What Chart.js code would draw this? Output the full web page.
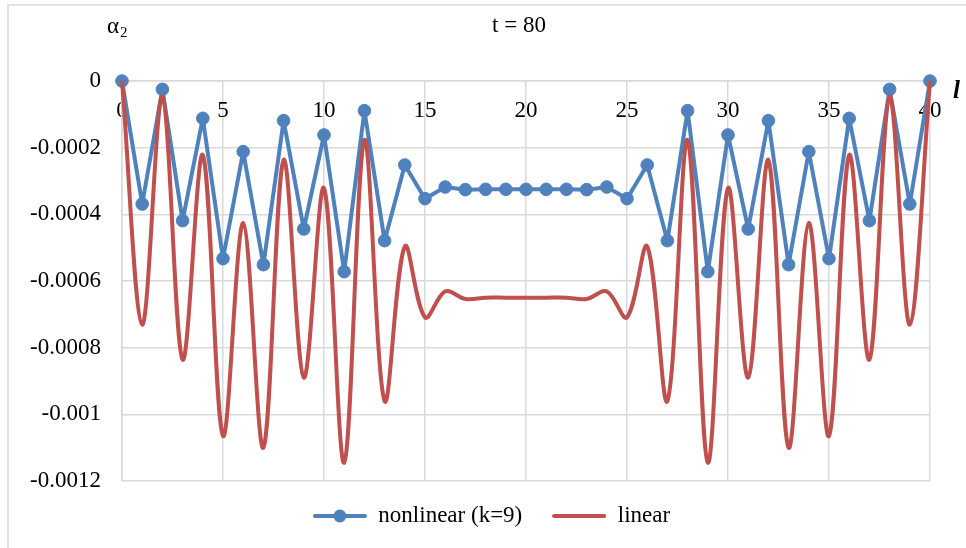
<!DOCTYPE html>
<html>
<head>
<meta charset="utf-8">
<script src="https://cdn.jsdelivr.net/npm/chart.js@4.4.1/dist/chart.umd.min.js"></script>
<style>
  body { margin: 0; background: #fff; }
  #wrap { width: 966px; height: 548px; position: relative; }
</style>
</head>
<body>
<div id="wrap"><canvas id="myChart"></canvas></div>
<script>
// data
const xValues = [0, 1, 2, 3, 4, 5, 6, 7, 8, 9, 10, 11, 12, 13, 14, 15, 16, 17, 18, 19, 20,
                 21, 22, 23, 24, 25, 26, 27, 28, 29, 30, 31, 32, 33, 34, 35, 36, 37, 38, 39, 40];
const nonlinearValues = [0, -0.000369, -0.000025, -0.000419, -0.000112, -0.000533, -0.000212, -0.000551,
  -0.000119, -0.000444, -0.000162, -0.000572, -0.000089, -0.000479, -0.000252, -0.000353, -0.000318,
  -0.000326, -0.000325, -0.000325, -0.000325, -0.000325, -0.000325, -0.000326, -0.000318, -0.000353,
  -0.000252, -0.000479, -0.000089, -0.000572, -0.000162, -0.000444, -0.000119, -0.000551, -0.000212,
  -0.000533, -0.000112, -0.000419, -0.000025, -0.000369, 0];
const linearValues = [0, -0.000731, -0.000047, -0.000836, -0.000222, -0.001065, -0.000426, -0.0011,
  -0.000237, -0.00089, -0.000321, -0.001145, -0.000177, -0.00096, -0.000496, -0.000709, -0.000631,
  -0.000654, -0.00065, -0.00065, -0.00065, -0.00065, -0.00065, -0.000654, -0.000631, -0.000709,
  -0.000496, -0.00096, -0.000177, -0.001145, -0.000321, -0.00089, -0.000237, -0.0011, -0.000426,
  -0.001065, -0.000222, -0.000836, -0.000047, -0.000731, 0];
const seriesNames = ["nonlinear (k=9)", "linear"];
const xTicks = [0, 5, 10, 15, 20, 25, 30, 35, 40];
const xTickLabels = ["0", "5", "10", "15", "20", "25", "30", "35", "40"];
const yTicks = [-0.0012, -0.001, -0.0008, -0.0006, -0.0004, -0.0002, 0];
const yTickLabels = ["-0.0012", "-0.001", "-0.0008", "-0.0006", "-0.0004", "-0.0002", "0"];
const chartTitle = "t = 80";

const blue = "#4F81BD";
const red = "#C0504D";
const gridColor = "#d9d9d9";
const serif = "'Liberation Serif', 'Times New Roman', serif";

Chart.defaults.font.family = serif;
Chart.defaults.font.size = 23;
Chart.defaults.color = "#000";

function toPoints(ys) {
  return xValues.map(function(x, i) { return {x: x, y: ys[i]}; });
}

// little line(+marker) picture for the legend keys
function legendKey(color, marker) {
  const c = document.createElement("canvas");
  c.width = 54; c.height = 16;
  const g = c.getContext("2d");
  g.strokeStyle = color;
  g.lineWidth = 4;
  g.lineCap = "round";
  g.beginPath(); g.moveTo(2, 8); g.lineTo(52, 8); g.stroke();
  if (marker) {
    g.fillStyle = color;
    g.beginPath(); g.arc(27, 8, 6.5, 0, Math.PI * 2); g.fill();
  }
  return c;
}

const extraText = {
  id: "extraText",
  afterLayout(chart) {
    // nudge legend and title to where the original has them
    chart.legend.left += 13; chart.legend.right += 13;
    chart.legend.top -= 6.5; chart.legend.bottom -= 6.5;
    chart.titleBlock.left -= 7; chart.titleBlock.right -= 7;
  },
  beforeDraw(chart) {
    const ctx = chart.ctx;
    ctx.save();
    ctx.strokeStyle = gridColor;
    ctx.lineWidth = 1.5;
    ctx.beginPath();
    ctx.moveTo(8, 548); ctx.lineTo(8, 5); ctx.lineTo(966, 5);
    ctx.stroke();
    ctx.restore();
  },
  afterDraw(chart) {
    const ctx = chart.ctx, area = chart.chartArea;
    ctx.save();
    ctx.fillStyle = "#000";
    ctx.textBaseline = "alphabetic";
    ctx.font = "23px " + serif;
    ctx.fillText("\u03b1", area.left - 15, 33);
    ctx.font = "15px " + serif;
    ctx.fillText("2", area.left - 2, 37);
    ctx.font = "italic bold 25px " + serif;
    ctx.fillText("l", area.right + 23, area.top + 17);
    ctx.restore();
  }
};

new Chart("myChart", {
  type: "line",
  data: {
    datasets: [{
      label: seriesNames[0],
      data: toPoints(nonlinearValues),
      borderColor: blue,
      backgroundColor: blue,
      borderWidth: 4,
      borderJoinStyle: "round",
      pointRadius: 6.3,
      pointBorderWidth: 1,
      pointBackgroundColor: blue,
      pointBorderColor: blue,
      tension: 0,
      clip: false,
      order: 1
    }, {
      label: seriesNames[1],
      data: toPoints(linearValues),
      borderColor: red,
      backgroundColor: red,
      borderWidth: 4,
      borderJoinStyle: "round",
      pointRadius: 0,
      tension: 0.35,
      clip: false,
      order: 0
    }]
  },
  options: {
    responsive: true,
    maintainAspectRatio: false,
    animation: false,
    events: [],
    layout: { padding: { left: 27, right: 36, top: 0, bottom: 4 } },
    scales: {
      x: {
        type: "linear",
        position: { y: 0 },
        min: 0,
        max: 40,
        afterBuildTicks: function(s) { s.ticks = xTicks.map(function(v) { return {value: v}; }); },
        afterFit: function(s) { s.height = 0; },
        ticks: {
          padding: 16,
          maxRotation: 0,
          callback: function(v) { return xTickLabels[xTicks.indexOf(v)]; }
        },
        grid: { color: gridColor, lineWidth: 1.5, drawTicks: false },
        border: { color: gridColor, width: 1.5 }
      },
      y: {
        type: "linear",
        position: "left",
        min: -0.0012,
        max: 0,
        afterBuildTicks: function(s) { s.ticks = yTicks.map(function(v) { return {value: v}; }); },
        afterFit: function(s) { s.width = 95; },
        ticks: {
          padding: 21,
          callback: function(v) { return yTickLabels[yTicks.indexOf(v)]; }
        },
        grid: { color: gridColor, lineWidth: 1.5, drawTicks: false },
        border: { color: gridColor, width: 1.5 }
      }
    },
    plugins: {
      title: {
        display: true,
        text: chartTitle,
        fullSize: false,
        font: { size: 23, weight: "normal" },
        color: "#000",
        padding: { top: 12.5, bottom: 40.9 }
      },
      legend: {
        position: "bottom",
        labels: {
          usePointStyle: true,
          pointStyleWidth: 54,
          padding: 30,
          color: "#000",
          font: { size: 23 },
          generateLabels: function(chart) {
            return [
              { text: seriesNames[0], pointStyle: legendKey(blue, true), datasetIndex: 0,
                hidden: false, fillStyle: blue, strokeStyle: blue, lineWidth: 0, fontColor: "#000" },
              { text: seriesNames[1], pointStyle: legendKey(red, false), datasetIndex: 1,
                hidden: false, fillStyle: red, strokeStyle: red, lineWidth: 0, fontColor: "#000" }
            ];
          }
        }
      },
      tooltip: { enabled: false }
    }
  },
  plugins: [extraText]
});
</script>
</body>
</html>
